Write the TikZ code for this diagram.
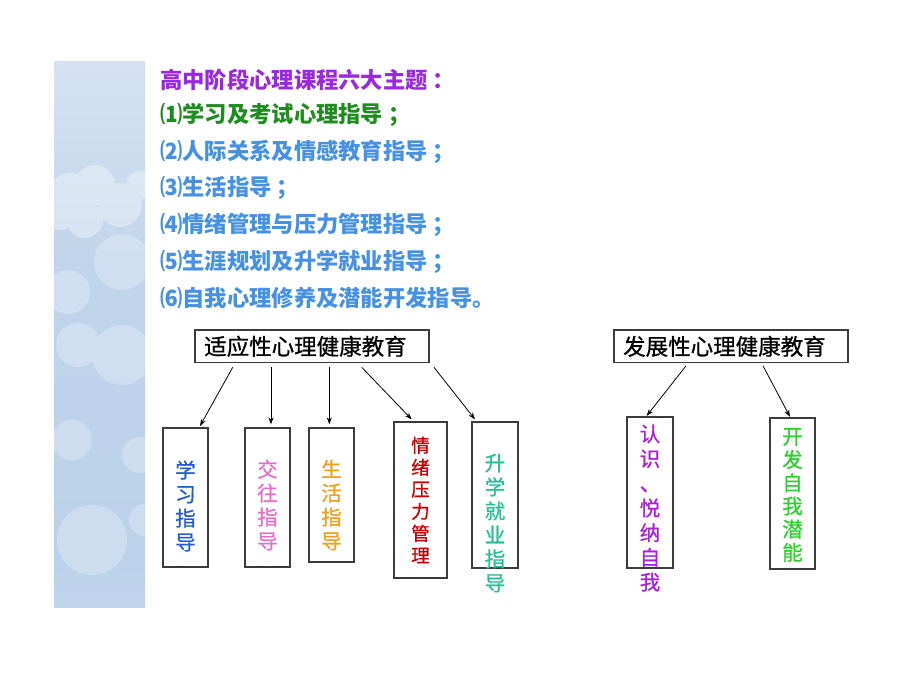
\documentclass[tikz,border=0pt]{standalone}
\usepackage{fontspec}
\setmainfont{Noto Sans CJK SC}
\newfontfamily\cjkmed{Noto Sans CJK SC}[FakeBold=0.8]
\usetikzlibrary{arrows.meta}
\definecolor{ttlpurple}{RGB}{155,40,225}
\definecolor{ttlgreen}{RGB}{30,140,30}
\definecolor{ttlblue}{RGB}{70,145,228}
\definecolor{cblue}{RGB}{30,90,220}
\definecolor{cpink}{RGB}{230,110,200}
\definecolor{corange}{RGB}{240,160,30}
\definecolor{cred}{RGB}{200,0,0}
\definecolor{cteal}{RGB}{40,190,150}
\definecolor{cpurple}{RGB}{170,30,220}
\definecolor{cgreen}{RGB}{40,210,40}
\definecolor{boxline}{RGB}{60,60,60}
\pgfdeclareverticalshading{stripsh}{100bp}{%
  rgb(0bp)=(0.863,0.910,0.961);
  rgb(6.8bp)=(0.804,0.867,0.937);
  rgb(28.8bp)=(0.737,0.824,0.918);
  rgb(56.3bp)=(0.753,0.831,0.922);
  rgb(67.3bp)=(0.804,0.867,0.941);
  rgb(82bp)=(0.855,0.902,0.957);
  rgb(100bp)=(0.902,0.933,0.969)}
\newcommand\pk{\kern0.22em}
\begin{document}
\begin{tikzpicture}[x=1pt,y=-1pt,
  topic/.style={anchor=west,inner sep=0pt,font=\fontsize{22.3}{24}\selectfont\bfseries},
  hbox/.style={draw=boxline,line width=1.3pt,minimum width=234pt,minimum height=32.7pt,inner sep=0pt},
  cbox/.style={draw=boxline,line width=1.3pt,inner sep=0pt},
  htext/.style={anchor=west,inner sep=0pt,font=\fontsize{22.5}{24}\selectfont\cjkmed},
  vtext/.style={align=center,inner sep=0pt,font=\fontsize{20.5}{24}\selectfont\cjkmed},
  arr/.style={draw=black,line width=0.8pt,-{Stealth[length=7pt,width=5pt]}}]
\useasboundingbox (0,0) rectangle (920,690);
% decorative strip
\begin{scope}
\clip (54,62) rectangle (145,607);
\shade[shading=stripsh] (54,62) rectangle (145,607);
\fill[white,opacity=0.35] (70,195) circle (22) (95,185) circle (20) (120,205) circle (22) (85,220) circle (18) (140,185) circle (14) (60,215) circle (15);
\fill[white,opacity=0.25] (122,262) circle (28) (68,292) circle (22) (122,355) circle (30) (78,345) circle (22)
  (72,440) circle (20) (140,455) circle (18) (92,540) circle (35) (145,520) circle (16);
\end{scope}
% topic list
\node[topic,text=ttlpurple] (t0) at (160,80) {高中阶段心理课程六大主题\pk：};
\node[topic,text=ttlgreen] (t1) at (160,115) {⑴学习及考试心理指导\pk；};
\node[topic,text=ttlblue] (t2) at (160,152) {⑵人际关系及情感教育指导\pk；};
\node[topic,text=ttlblue] (t3) at (160,188) {⑶生活指导\pk；};
\node[topic,text=ttlblue] (t4) at (160,225) {⑷情绪管理与压力管理指导\pk；};
\node[topic,text=ttlblue] (t5) at (160,262) {⑸生涯规划及升学就业指导\pk；};
\node[topic,text=ttlblue] (t6) at (160,298) {⑹自我心理修养及潜能开发指导。};
% header boxes
\node[hbox] (hL) at (312,346.3) {};
\node[htext] (hLt) at (204,346.3) {适应性心理健康教育};
\node[hbox] (hR) at (731,346.3) {};
\node[htext] (hRt) at (623,346.3) {发展性心理健康教育};
% child boxes
\node[cbox,minimum width=45pt,minimum height=139pt] (c1) at (185.5,497.5) {};
\node[cbox,minimum width=45pt,minimum height=139pt] (c2) at (267.5,497.5) {};
\node[cbox,minimum width=45pt,minimum height=134pt] (c3) at (331.5,495) {};
\node[cbox,minimum width=53pt,minimum height=156pt] (c4) at (420.5,500) {};
\node[cbox,minimum width=46pt,minimum height=146pt] (c5) at (495,495) {};
\node[cbox,minimum width=46pt,minimum height=151pt] (d1) at (650,492.5) {};
\node[cbox,minimum width=45pt,minimum height=151pt] (d2) at (792.5,493.5) {};
% child texts
\node[vtext,text=cblue] (c1t) at (185.5,506) {学\\习\\指\\导};
\node[vtext,text=cpink] (c2t) at (267.5,505) {交\\往\\指\\导};
\node[vtext,text=corange] (c3t) at (331.5,505) {生\\活\\指\\导};
\node[vtext,text=cred,font=\fontsize{18.5}{22}\selectfont\cjkmed] (c4t) at (420.5,500) {情\\绪\\压\\力\\管\\理};
\node[vtext,text=cteal] (c5t) at (495,523) {升\\学\\就\\业\\指\\导};
\node[vtext,text=cpurple,font=\fontsize{20.5}{24.7}\selectfont\cjkmed] (d1t) at (650,508) {认\\识\\、\\悦\\纳\\自\\我};
\node[vtext,text=cgreen,font=\fontsize{20.5}{23.2}\selectfont\cjkmed] (d2t) at (792.5,495) {开\\发\\自\\我\\潜\\能};
% arrows
\draw[arr] ([xshift=-79.3pt,yshift=-4pt]hL.south) -- ([xshift=14.5pt,yshift=1.3pt]c1.north);
\draw[arr] ([xshift=-41pt,yshift=-4pt]hL.south) -- ([xshift=3.5pt,yshift=3pt]c2.north);
\draw[arr] ([xshift=17.3pt,yshift=-4pt]hL.south) -- ([xshift=-2.2pt,yshift=3pt]c3.north);
\draw[arr] ([xshift=49.7pt,yshift=-4pt]hL.south) -- ([xshift=-8.8pt,yshift=2pt]c4.north);
\draw[arr] ([xshift=4.3pt,yshift=-4pt]hL.south east) -- ([xshift=-20pt,yshift=2pt]c5.north);
\draw[arr] ([xshift=-45pt,yshift=-2.5pt]hR.south) -- ([xshift=-3.3pt,yshift=0.5pt]d1.north);
\draw[arr] ([xshift=32pt,yshift=-2.5pt]hR.south) -- ([xshift=-2.5pt,yshift=0.5pt]d2.north);
\end{tikzpicture}
\end{document}
